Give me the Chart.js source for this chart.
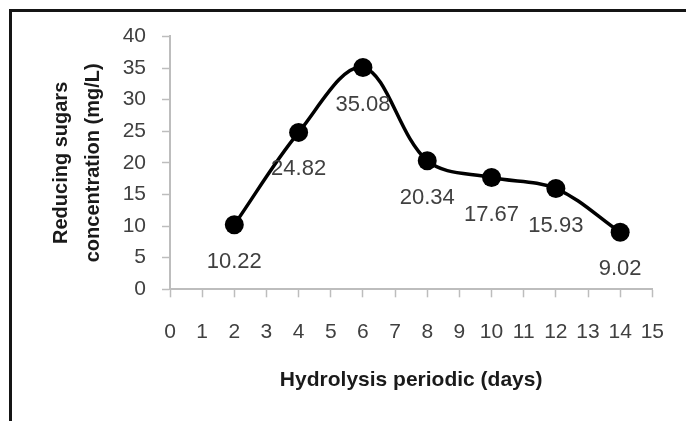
<!DOCTYPE html>
<html>
<head>
<meta charset="utf-8">
<script src="https://cdn.jsdelivr.net/npm/chart.js@4"></script>
<style>
  html, body { margin: 0; padding: 0; background: #fff; overflow: hidden; }
  #wrap { position: relative; width: 686px; height: 421px; }
  #frame { position: absolute; left: 9px; top: 9px; width: 720px; height: 460px;
           border-top: 3px solid #151515; border-left: 3px solid #151515; pointer-events: none; }
  canvas { position: absolute; left: 0; top: 0; }
</style>
</head>
<body>
<div id="wrap">
  <canvas id="c" width="686" height="421"></canvas>
  <div id="frame"></div>
</div>
<script>
// ---- data ----
const days = [2, 4, 6, 8, 10, 12, 14];
const sugars = [10.22, 24.82, 35.08, 20.34, 17.67, 15.93, 9.02];
const xTitle = 'Hydrolysis periodic (days)';
const yTitle = ['Reducing sugars', 'concentration (mg/L)'];

const FONT = "'Liberation Sans', Arial, sans-serif";

const valueLabels = {
  id: 'valueLabels',
  afterDatasetsDraw(chart) {
    const ctx = chart.ctx;
    const meta = chart.getDatasetMeta(0);
    ctx.save();
    ctx.font = '22px ' + FONT;
    ctx.fillStyle = '#404040';
    ctx.textAlign = 'center';
    ctx.textBaseline = 'middle';
    meta.data.forEach((pt, i) => {
      ctx.fillText(sugars[i].toFixed(2), pt.x, pt.y + 37);
    });
    ctx.restore();
  }
};

new Chart(document.getElementById('c'), {
  type: 'line',
  data: {
    datasets: [{
      data: days.map((d, i) => ({ x: d, y: sugars[i] })),
      borderColor: '#000',
      backgroundColor: '#000',
      borderWidth: 3.5,
      pointRadius: 9.5,
      pointBackgroundColor: '#000',
      pointBorderWidth: 0,
      tension: 0.35,
      fill: false,
      clip: false
    }]
  },
  options: {
    responsive: false,
    animation: false,
    devicePixelRatio: 1,
    layout: { autoPadding: false, padding: { left: 0, top: 36.4, right: 27.7, bottom: 0 } },
    plugins: { legend: { display: false }, tooltip: { enabled: false } },
    scales: {
      x: {
        type: 'linear', min: 0, max: 15,
        ticks: { stepSize: 1, color: '#404040', font: { family: FONT, size: 21 }, padding: 22, maxRotation: 0, autoSkip: false },
        grid: { drawOnChartArea: false, drawTicks: true, tickLength: 8, tickColor: '#bdbdbd', tickWidth: 1.5 },
        border: { display: true, color: '#bdbdbd', width: 2 },
        title: { display: true, text: xTitle, color: '#1a1a1a', font: { family: FONT, size: 21, weight: 'bold', lineHeight: 1.2 }, padding: { top: 0, bottom: 28 } },
        afterFit(scale) { scale.height = 421 - 289.3; }
      },
      y: {
        type: 'linear', min: 0, max: 40,
        ticks: { stepSize: 5, color: '#404040', font: { family: FONT, size: 21 }, padding: 16 },
        grid: { drawOnChartArea: false, drawTicks: true, tickLength: 8, tickColor: '#bdbdbd', tickWidth: 1.5 },
        border: { display: true, color: '#bdbdbd', width: 2 },
        title: { display: true, text: yTitle, color: '#1a1a1a', font: { family: FONT, size: 20, weight: 'bold', lineHeight: 1.58 }, padding: { top: 45.6, bottom: 0 } },
        afterFit(scale) { scale.width = 170; }
      }
    }
  },
  plugins: [valueLabels]
});
</script>
</body>
</html>
